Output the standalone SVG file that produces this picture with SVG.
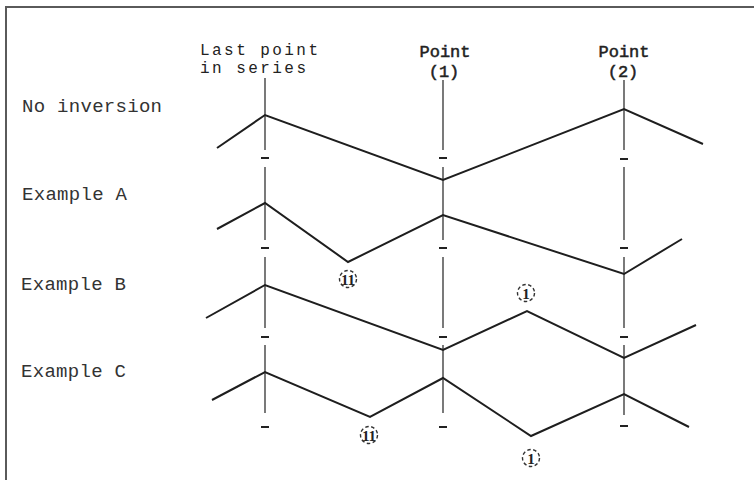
<svg xmlns="http://www.w3.org/2000/svg" width="754" height="480" viewBox="0 0 754 480">
<style>
.frame{stroke:#5a5a5a;stroke-width:2;fill:none}
.lbl{font-family:"Liberation Mono","DejaVu Sans Mono",monospace;font-size:19px;fill:#333}
.hdr{font-family:"Liberation Mono","DejaVu Sans Mono",monospace;font-size:16px;fill:#222}
.hdrb{font-family:"Liberation Mono","DejaVu Sans Mono",monospace;font-size:17px;fill:#222;stroke:#222;stroke-width:0.5;text-anchor:middle}
.axis{stroke:#333;stroke-width:1.3;fill:none}
.tick{stroke:#222;stroke-width:2;fill:none}
.wave{stroke:#1e1e1e;stroke-width:2;fill:none;stroke-linejoin:miter}
.circ{stroke:#333;stroke-width:1.4;fill:none;stroke-dasharray:3.5 2.5}
.num{font-family:"Liberation Serif","DejaVu Serif",serif;font-size:15px;font-weight:bold;fill:#222;text-anchor:middle}
</style>
<rect width="754" height="480" fill="#fff"/>
<path class="frame" d="M6,480 V7 H754"/>

<g id="headers">
<text class="hdr" x="200" y="55" textLength="118" lengthAdjust="spacing">Last point</text>
<text class="hdr" x="200" y="73" textLength="106" lengthAdjust="spacing">in series</text>
<text class="hdrb" x="445" y="57">Point</text>
<text class="hdrb" x="444" y="77">(1)</text>
<text class="hdrb" x="624" y="57">Point</text>
<text class="hdrb" x="623" y="77">(2)</text>
</g>

<g id="row-labels">
<text class="lbl" x="22" y="112" textLength="140" lengthAdjust="spacing">No inversion</text>
<text class="lbl" x="22" y="200" textLength="105" lengthAdjust="spacing">Example A</text>
<text class="lbl" x="21" y="290" textLength="105" lengthAdjust="spacing">Example B</text>
<text class="lbl" x="21" y="377" textLength="105" lengthAdjust="spacing">Example C</text>
</g>

<g id="axes">
<g id="axis-last">
<path class="axis" d="M265,78 V150 M265,167 V240 M265,257 V328 M265,345 V413"/>
<path class="tick" d="M261,158 H269 M261,248 H269 M261,337 H269 M261,427 H269"/>
</g>
<g id="axis-point1">
<path class="axis" d="M443,80 V150 M443,167 V240 M443,257 V328 M443,345 V413"/>
<path class="tick" d="M439,158 H447 M439,248 H447 M439,337 H447 M439,427 H447"/>
</g>
<g id="axis-point2">
<path class="axis" d="M624,80 V150 M624,167 V240 M624,257 V328 M624,345 V415"/>
<path class="tick" d="M620,159 H628 M620,248 H628 M620,337 H628 M620,426 H628"/>
</g>
</g>

<g id="connectors">
<polyline id="no-inversion" class="wave" points="217,148 265,115 443,180 624,109 703,144"/>
<polyline id="example-a" class="wave" points="217,229 265,203 348,262 443,215 624,274 682,239"/>
<polyline id="example-b" class="wave" points="206,318 265,285 443,350 527,311 624,358 696,325"/>
<polyline id="example-c" class="wave" points="212,400 265,372 370,417 443,378 531,436 624,394 689,427"/>
</g>

<g id="mark-a">
<circle class="circ" cx="348" cy="279" r="8.5"/>
<text class="num" x="348" y="284.5">11</text>
</g>
<g id="mark-b">
<circle class="circ" cx="526" cy="293" r="8.5"/>
<text class="num" x="526" y="298.5">1</text>
</g>
<g id="mark-c1">
<circle class="circ" cx="369" cy="435" r="8.5"/>
<text class="num" x="369" y="440.5">11</text>
</g>
<g id="mark-c2">
<circle class="circ" cx="531" cy="458" r="8.5"/>
<text class="num" x="531" y="463.5">1</text>
</g>
</svg>
